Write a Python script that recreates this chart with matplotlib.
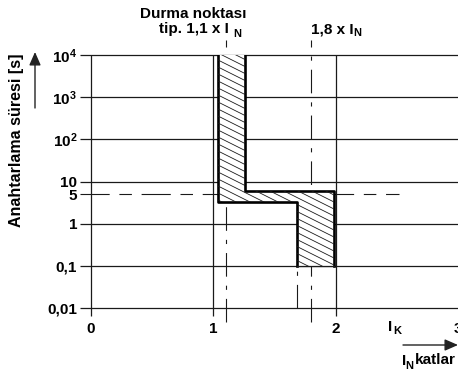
import matplotlib
matplotlib.use("Agg")
import matplotlib.pyplot as plt
import numpy as np
from matplotlib.patches import Polygon
from matplotlib.ticker import NullLocator, FixedLocator

plt.rcParams['font.family'] = ['Liberation Sans', 'DejaVu Sans']
plt.rcParams['font.weight'] = 'bold'
plt.rcParams['mathtext.fontset'] = 'custom'
plt.rcParams['mathtext.rm'] = 'Liberation Sans:bold'
plt.rcParams['mathtext.bf'] = 'Liberation Sans:bold'
plt.rcParams['mathtext.it'] = 'Liberation Sans:bold'
plt.rcParams['mathtext.default'] = 'bf'
plt.rcParams['lines.scale_dashes'] = False

# ---- data ----
x_ticks = [0, 1, 2, 3]
x_tick_labels = ['0', '1', '2', '3']
y_grid = [0.01, 0.1, 1, 10, 100, 1000, 10000]
y_ticks = [0.01, 0.1, 1, 5, 10, 100, 1000, 10000]
y_tick_labels = ['0,01', '0,1', '1', '5', '10', r'$\mathbf{10^{2}}$',
                 r'$\mathbf{10^{3}}$', r'$\mathbf{10^{4}}$']
# tripping band outline (multiples of I_N, seconds)
band_x = [1.04, 1.04, 1.68, 1.68, 1.99, 1.99, 1.26, 1.26]
band_y = [10000, 3.2, 3.2, 0.1, 0.1, 6.0, 6.0, 10000]
stop_point = 1.1      # tip. 1,1 x I_N
upper_point = 1.8     # 1,8 x I_N
ref_time = 5          # dashed horizontal reference

W, H = 458, 375
fig = plt.figure(figsize=(W / 100, H / 100), dpi=100)
ax = fig.add_axes([91 / W, (H - 308) / H, 367 / W, 253 / H])
ax.set_xlim(0, 3)
ax.set_yscale('log')
ax.set_ylim(0.01, 10000)
for s in ax.spines.values():
    s.set_visible(False)
ax.patch.set_visible(False)

lc = '#1a1a1a'
ylow = 10 ** (-2 - 8 / 42.2)     # little extension below axis
# horizontal grid lines (extend left as ticks)
for yv in y_grid:
    ax.plot([-0.09, 3.0], [yv, yv], color=lc, lw=0.9, clip_on=False, solid_capstyle='butt')
# vertical lines
for xv in [0, 1, 2]:
    ax.plot([xv, xv], [ylow, 10000], color=lc, lw=0.9, clip_on=False, solid_capstyle='butt')

dd = (17, 6.5, 3, 6.5)
# dash-dot verticals
ax.plot([stop_point, stop_point], [10 ** (-2 - 14 / 42.2), 10 ** (4 + 15 / 42.2)],
        color=lc, lw=0.8, linestyle=(0, dd), clip_on=False)
ax.plot([upper_point, upper_point], [10 ** (-2 - 14 / 42.2), 10 ** (4 + 15 / 42.2)],
        color=lc, lw=0.8, linestyle=(0, dd), clip_on=False)
ax.plot([band_x[2], band_x[2]], [0.01, 0.1], color=lc, lw=0.8, linestyle=(0, dd))
# horizontal dashed at 5 s
ax.plot([-0.09, 2.52], [ref_time, ref_time], color=lc, lw=0.8,
        linestyle=(0, (21, 7, 9, 7)), clip_on=False)

# band: white fill + hatch lines clipped
poly = Polygon(np.column_stack([band_x, band_y]), closed=True, facecolor='white',
               edgecolor='none', zorder=3)
ax.add_patch(poly)
for c in np.arange(-120, 400, 7.0):
    x0, x1 = 180, 360
    y0 = c
    y1 = c + 0.5 * (x1 - x0)
    ln = plt.Line2D([x0 / W, x1 / W], [1 - y0 / H, 1 - y1 / H], transform=fig.transFigure,
                    color=lc, lw=0.6, zorder=4)
    ln.set_clip_path(poly)
    fig.add_artist(ln)
    ln.set_clip_path(poly)
# outline: left edge, bottom step, right edge
ax.plot(band_x[:4], band_y[:4], color='black', lw=1.9, zorder=5, solid_joinstyle='round')
ax.plot(band_x[4:], band_y[4:], color='black', lw=1.9, zorder=5, solid_joinstyle='round')
ax.plot([band_x[3], band_x[4]], [0.1, 0.1], color=lc, lw=0.9, zorder=5)

# ticks
ax.yaxis.set_minor_locator(NullLocator())
ax.set_yticks(y_ticks)
ax.set_yticklabels(y_tick_labels)
ax.set_xticks(x_ticks)
ax.set_xticklabels(x_tick_labels)
ax.tick_params(axis='y', length=0, pad=10, labelsize=11)
ax.tick_params(axis='x', length=0, pad=10, labelsize=11)

def ft(px, py, s, **kw):
    fig.text(px / W, 1 - py / H, s, fontweight='bold', **kw)

ft(247, 14, 'Durma noktası', ha='right', va='center', fontsize=11)
ft(229, 29, 'tip. 1,1 x I', ha='right', va='center', fontsize=11)
ft(233, 34, 'N', ha='left', va='center', fontsize=8)
ft(311, 29, '1,8 x I', ha='left', va='center', fontsize=11)
ft(353, 33, 'N', ha='left', va='center', fontsize=8)
ft(17, 140, 'Anahtarlama süresi [s]', ha='center', va='center', rotation=90, fontsize=11.5)
ft(388, 327, 'I', ha='left', va='center', fontsize=11)
ft(393, 331, 'K', ha='left', va='center', fontsize=8)
ft(402, 361, 'I', ha='left', va='center', fontsize=11)
ft(405, 366, 'N', ha='left', va='center', fontsize=8)
ft(415, 360, 'katlar', ha='left', va='center', fontsize=11)

fig.add_artist(matplotlib.patches.FancyArrowPatch(
    (35 / W, 1 - 108 / H), (35 / W, 1 - 52 / H), transform=fig.transFigure,
    arrowstyle='-|>,head_length=8,head_width=3.5', color='#222', lw=1.0,
    mutation_scale=1, shrinkA=0, shrinkB=0))
fig.add_artist(matplotlib.patches.FancyArrowPatch(
    (403 / W, 1 - 345 / H), (458 / W, 1 - 345 / H), transform=fig.transFigure,
    arrowstyle='-|>,head_length=8,head_width=3.5', color='#222', lw=1.0,
    mutation_scale=1, shrinkA=0, shrinkB=0))

fig.savefig('out.png', dpi=100)
